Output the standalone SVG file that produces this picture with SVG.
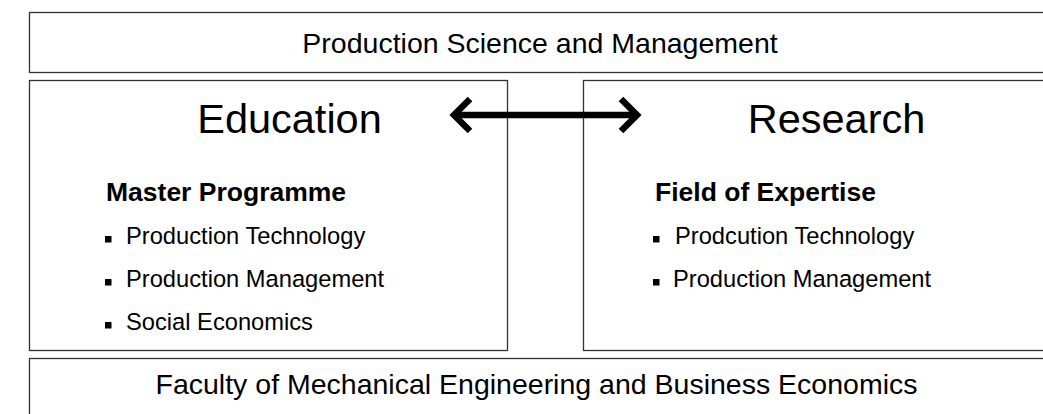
<svg xmlns="http://www.w3.org/2000/svg" width="1043" height="414" viewBox="0 0 1043 414">
<style>
.box{fill:#fff;stroke:#333;stroke-width:1.3}
.t{font-family:"Liberation Sans",Arial,sans-serif;fill:#000}
.big{font-size:41.5px;text-anchor:middle}
.hdr{font-size:28.5px;text-anchor:middle}
.sub{font-size:26.5px;font-weight:bold}
.li{font-size:23.7px}
.bul{fill:#000}
</style>
<rect width="1043" height="414" fill="#fff"/>
<g id="top">
<rect class="box" x="29.5" y="12.5" width="1030" height="60"/>
<text class="t hdr" x="540" y="53">Production Science and Management</text>
</g>
<g id="education">
<rect class="box" x="29.5" y="80.5" width="478" height="270"/>
<text class="t big" x="289.5" y="133">Education</text>
<text class="t sub" x="106" y="201">Master Programme</text>
<rect class="bul" x="105" y="236" width="6.5" height="6.5"/>
<text class="t li" x="126" y="244">Production Technology</text>
<rect class="bul" x="105" y="279" width="6.5" height="6.5"/>
<text class="t li" x="126" y="287">Production Management</text>
<rect class="bul" x="105" y="322" width="6.5" height="6.5"/>
<text class="t li" x="126" y="330">Social Economics</text>
</g>
<g id="research">
<rect class="box" x="583.5" y="80.5" width="480" height="270"/>
<text class="t big" x="836.5" y="133">Research</text>
<text class="t sub" x="655" y="201">Field of Expertise</text>
<rect class="bul" x="653" y="236" width="6.5" height="6.5"/>
<text class="t li" x="675" y="244">Prodcution Technology</text>
<rect class="bul" x="653" y="279" width="6.5" height="6.5"/>
<text class="t li" x="673" y="287">Production Management</text>
</g>
<g id="faculty">
<rect class="box" x="29.5" y="358.5" width="1030" height="70"/>
<text class="t hdr" x="536.5" y="394">Faculty of Mechanical Engineering and Business Economics</text>
</g>
<g id="connectors" fill="none" stroke="#000" stroke-width="6.5">
<line x1="453" y1="115" x2="638" y2="115"/>
<polyline points="470,99 454,115 470,131"/>
<polyline points="621,99 637,115 621,131"/>
</g>
</svg>
